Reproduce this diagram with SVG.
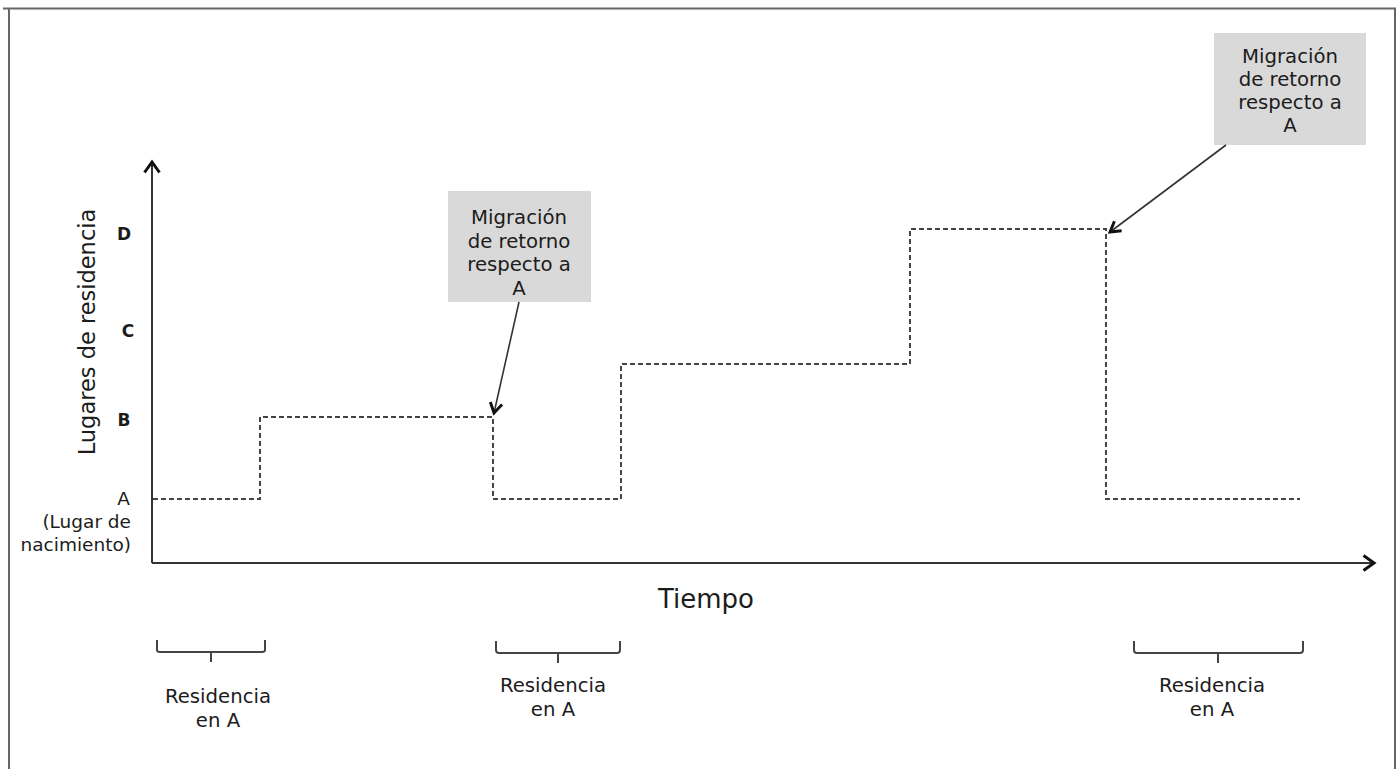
<svg xmlns="http://www.w3.org/2000/svg" width="1398" height="769" viewBox="0 0 1398 769">
<style>
.t{font-family:"DejaVu Sans","Liberation Sans",sans-serif;fill:#1c1c1c;text-anchor:middle}
.lbl{font-size:19.7px}
.r{text-anchor:end}
.tick{font-family:"DejaVu Sans","Liberation Sans",sans-serif;font-size:17px;font-weight:bold;fill:#1c1c1c;text-anchor:middle}
.step{fill:none;stroke:#444;stroke-width:2;stroke-dasharray:5 3}
.axis{fill:none;stroke:#333;stroke-width:2}
.brace{fill:none;stroke:#444;stroke-width:2}
.box{fill:#d9d9d9}
.call{stroke:#333;stroke-width:1.6;fill:none}
</style>
<defs>
<marker id="ah" viewBox="0 0 12 12" refX="10" refY="6" markerWidth="16" markerHeight="16" markerUnits="userSpaceOnUse" orient="auto">
<path d="M2.5,1.5 L10,6 L2.5,10.5" fill="none" stroke="#111" stroke-width="2.2"/>
</marker>
<marker id="ah2" viewBox="0 0 12 12" refX="10" refY="6" markerWidth="18" markerHeight="18" markerUnits="userSpaceOnUse" orient="auto">
<path d="M3,1 L10,6 L3,11" fill="none" stroke="#111" stroke-width="2"/>
</marker>
</defs>
<rect width="1398" height="769" fill="#fff"/>
<path d="M3,8.5 H1395 V769 M9,8.5 V769" fill="none" stroke="#666" stroke-width="2"/>

<g id="axes">
<line class="axis" x1="152" y1="563" x2="152" y2="162" marker-end="url(#ah2)"/>
<line class="axis" x1="152" y1="563" x2="1374" y2="563" marker-end="url(#ah2)"/>
<text class="t" transform="translate(95,332) rotate(-90)" font-size="22.5">Lugares de residencia</text>
<text class="t" x="706" y="608" font-size="26">Tiempo</text>
</g>

<g id="ticks">
<text class="tick" x="124" y="240">D</text>
<text class="tick" x="128" y="337">C</text>
<text class="tick" x="124" y="426">B</text>
<text class="t r" x="130" y="505" font-size="18.5">A</text>
<text class="t r" x="131" y="528" font-size="18.5">(Lugar de</text>
<text class="t r" x="131" y="551" font-size="18.5">nacimiento)</text>
</g>

<g id="trajectory">
<path class="step" d="M153,499 H260 V417 H493 V499 H621 V364 H910 V229 H1106 V499 H1300"/>
</g>

<g id="box1">
<rect class="box" x="448" y="191" width="143" height="111"/>
<text class="t lbl" x="519" y="224">Migración</text>
<text class="t lbl" x="519" y="247.5">de retorno</text>
<text class="t lbl" x="519" y="271">respecto a</text>
<text class="t lbl" x="519" y="294.5">A</text>
</g>

<g id="box2">
<rect class="box" x="1214" y="33" width="152" height="112"/>
<text class="t lbl" x="1290" y="63">Migración</text>
<text class="t lbl" x="1290" y="86">de retorno</text>
<text class="t lbl" x="1290" y="109">respecto a</text>
<text class="t lbl" x="1290" y="132">A</text>
</g>

<g id="connectors">
<line class="call" x1="519" y1="302" x2="494" y2="413" marker-end="url(#ah)"/>
<line class="call" x1="1226" y1="145" x2="1110" y2="232" marker-end="url(#ah)"/>
</g>

<g id="brace1">
<path class="brace" d="M157,640 V650 Q157,652 160,652 H262 Q265,652 265,650 V640 M211,652 V662"/>
<text class="t lbl" x="218" y="703">Residencia</text>
<text class="t lbl" x="218" y="727">en A</text>
</g>
<g id="brace2">
<path class="brace" d="M496,641 V650 Q496,653 499,653 H617 Q620,653 620,650 V641 M558,653 V663"/>
<text class="t lbl" x="553" y="692">Residencia</text>
<text class="t lbl" x="553" y="716">en A</text>
</g>
<g id="brace3">
<path class="brace" d="M1134,641 V650 Q1134,653 1137,653 H1300 Q1303,653 1303,650 V641 M1218,653 V663"/>
<text class="t lbl" x="1212" y="692">Residencia</text>
<text class="t lbl" x="1212" y="716">en A</text>
</g>
</svg>
